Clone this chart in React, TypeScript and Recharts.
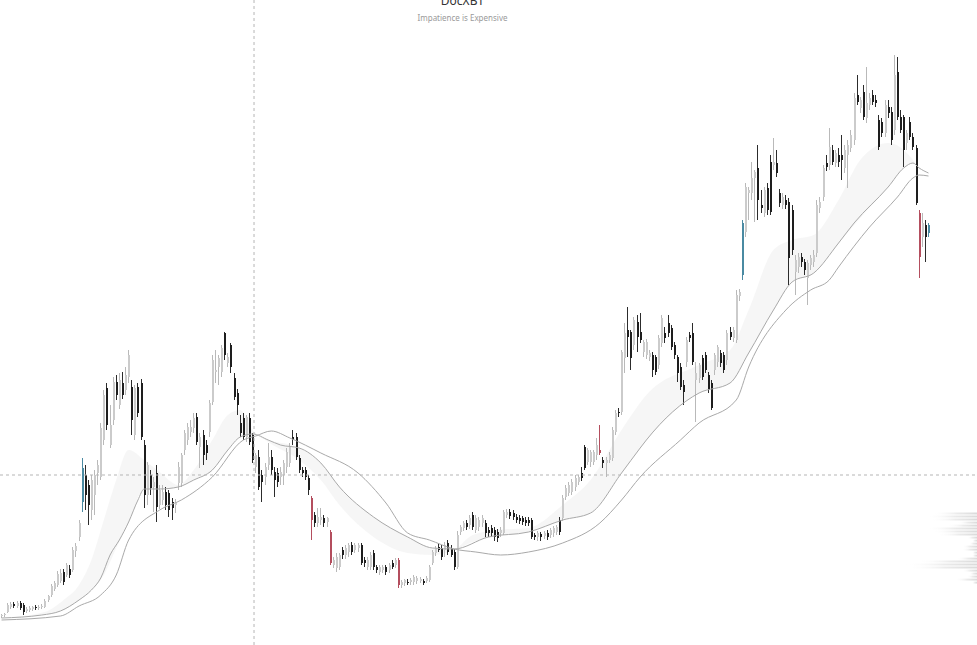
import React from 'react';
import { ComposedChart, Bar, Line, Area, XAxis, YAxis, ReferenceLine, BarChart } from 'recharts';

// Daily candles, [open, high, low, close] (price index units)
const ohlc: number[][] = [
  [29,31,27,30],[30,32,28,31],[33,42,32,40],[38,43,36,41],[41,43,37,39],[39,44,37,42],[42,44,35,37],[40,42,30,33],[34,38,32,36],[35,39,33,37],
  [36,39,34,38],[38,40,35,37],[37,40,35,38],[38,41,36,39],[38,46,37,44],[45,50,43,49],[50,61,48,59],[56,64,54,62],[60,74,58,71],[64,76,62,72],
  [73,76,60,63],[70,82,68,80],[76,80,67,70],[75,98,73,95],[94,102,88,99],[108,125,104,122],[143,187,133,177],[170,180,135,150],[160,165,120,140],[135,170,125,165],
  [150,175,130,170],[172,185,160,180],[168,222,165,217],[205,255,200,250],[257,262,215,220],[200,240,197,220],[225,268,220,263],[263,270,245,250],[240,272,236,265],[262,273,246,250],
  [255,278,250,270],[268,295,262,290],[258,265,210,225],[210,260,205,257],[258,262,228,232],[262,266,205,208],[200,205,137,150],[150,183,140,180],[170,175,150,157],[158,168,133,163],
  [172,180,123,138],[140,160,136,155],[145,160,140,153],[153,158,135,140],[152,155,128,135],[143,147,125,137],[140,146,132,142],[162,183,155,178],[162,192,158,190],[195,215,190,212],
  [205,222,200,218],[213,225,208,218],[217,232,212,227],[228,232,200,203],[198,212,177,208],[210,215,180,190],[200,205,185,192],[213,245,208,242],[243,290,240,285],[273,295,262,275],
  [278,290,260,287],[273,300,268,297],[312,313,285,290],[282,292,278,288],[300,302,272,278],[267,272,245,248],[252,256,230,240],[222,230,208,212],[227,232,205,208],[208,230,203,228],
  [227,232,200,203],[210,212,182,185],[178,192,172,190],[188,195,155,158],[170,175,143,163],[168,182,160,178],[180,202,175,188],[188,195,170,175],[173,178,148,165],[172,177,158,163],
  [168,178,160,173],[170,185,160,182],[178,197,172,193],[182,202,178,198],[208,215,200,205],[208,212,185,188],[187,190,172,175],[175,178,168,172],[175,178,165,168],[167,170,150,155],
  [147,149,105,125],[130,133,118,122],[122,137,118,128],[125,137,120,128],[127,130,118,122],[123,128,118,127],[113,115,80,82],[80,88,77,85],[77,92,73,88],[78,92,75,90],
  [95,98,86,90],[90,100,86,97],[93,102,88,100],[100,103,90,93],[95,102,92,100],[97,102,93,100],[100,102,80,82],[85,88,78,82],[78,88,75,85],[78,93,75,90],
  [92,95,75,78],[78,80,72,75],[73,80,70,78],[75,80,72,78],[78,80,70,73],[75,82,72,80],[82,85,76,78],[80,87,77,85],[85,87,57,60],[60,65,57,63],
  [62,66,59,65],[63,66,60,62],[63,67,60,65],[63,70,60,68],[64,69,61,67],[64,68,62,66],[64,66,60,62],[64,69,62,67],[65,80,63,78],[82,95,80,93],
  [92,99,89,97],[98,102,93,95],[97,100,85,88],[95,103,88,100],[102,105,90,93],[97,100,88,90],[93,96,75,78],[78,114,76,110],[113,120,110,118],[117,124,114,122],
  [122,125,115,118],[120,130,116,127],[130,133,115,118],[115,130,112,127],[118,128,114,125],[122,130,118,127],[122,125,108,112],[115,118,108,112],[117,120,108,112],[115,118,104,108],
  [113,116,103,107],[112,118,108,115],[112,135,110,133],[130,136,127,133],[133,136,126,129],[132,135,125,128],[128,131,122,125],[127,130,121,124],[127,129,120,123],[125,128,119,122],
  [125,128,119,122],[125,127,106,108],[110,112,105,108],[108,114,104,112],[111,113,104,108],[109,114,106,112],[112,115,105,108],[110,117,107,115],[112,119,108,117],[113,120,110,118],
  [125,128,110,113],[127,150,124,147],[148,160,145,157],[152,163,149,160],[153,166,150,163],[158,170,154,167],[163,170,160,168],[172,178,164,167],[198,200,175,177],[183,197,180,195],
  [183,195,178,193],[183,195,180,193],[190,207,185,200],[195,220,190,192],[185,188,177,182],[182,188,168,185],[185,193,182,190],[187,218,184,215],[213,235,210,232],[233,237,228,232],
  [233,295,230,293],[287,322,272,312],[315,338,288,308],[313,315,275,287],[300,328,295,325],[323,330,293,308],[313,332,302,305],[293,305,288,303],[290,306,286,303],[288,295,284,292],
  [290,293,268,275],[288,290,270,273],[280,310,276,307],[302,330,298,327],[312,318,302,307],[322,330,308,312],[317,320,295,298],[300,303,286,290],[288,290,263,272],[278,282,255,258],
  [260,265,240,253],[283,308,278,305],[310,313,303,307],[312,322,280,283],[265,283,223,272],[267,282,262,280],[287,290,265,268],[290,293,272,275],[270,273,252,255],[262,265,235,237],
  [275,292,270,290],[283,300,278,298],[292,295,278,282],[290,293,272,275],[285,315,280,312],[313,318,305,308],[307,318,303,315],[305,355,302,350],[349,356,344,353],[370,425,365,422],
  [413,462,408,458],[452,458,425,455],[452,483,445,467],[467,475,423,473],[477,500,425,445],[440,455,432,437],[432,458,428,455],[457,462,430,435],[483,490,430,433],[480,507,475,483],
  [482,495,468,472],[452,456,438,442],[440,452,436,448],[445,450,436,440],[443,447,360,387],[435,440,390,395],[373,390,350,385],[378,392,372,388],[388,392,378,383],[383,386,370,375],
  [367,385,340,382],[380,390,375,387],[383,395,378,390],[392,445,388,440],[437,448,432,443],[448,480,444,477],[482,490,474,478],[480,517,475,498],[495,500,480,483],[482,495,478,492],
  [490,497,478,483],[490,510,465,485],[477,500,472,495],[490,505,457,500],[497,515,493,510],[505,552,500,547],[550,570,540,543],[537,548,532,545],[553,560,525,528],[527,578,522,542],
  [540,552,535,547],[550,555,540,543],[545,550,538,542],[525,530,495,498],[523,527,508,512],[512,545,508,540],[538,545,527,532],[533,538,500,505],[515,590,510,570],[573,588,525,528],
  [528,535,512,515],[528,530,478,495],[502,515,495,512],[523,528,505,508],[508,512,495,498],[497,500,440,442],[432,435,367,388],[408,432,398,422],[420,425,383,408],[412,422,408,420],
];
const tealCandles = [26, 239, 299];
const redCandles = [100, 106, 128, 193, 296];

// Moving averages, [day, value]
const fastMA: number[][] = [
  [0,27],[13,30],[19,34],[25,45],[29,55],[32,67],[35,90],[38,105],[41,123],[44,145],[46,156],[51,156],[57,158],[62,165],[68,175],[73,195],[77,208],[81,211],
  [86,205],[90,200],[96,197],[103,182],[109,158],[120,128],[131,108],[139,97],[146,96],[157,108],[170,113],[181,125],[190,132],[200,172],[206,197],[208,205],
  [225,252],[235,262],[241,292],[249,335],[255,363],[262,372],[270,402],[275,422],[286,458],[291,477],[294,482],[296,477],[299,472],
];
const slowMA: number[][] = [
  [0,25],[19,29],[25,39],[32,50],[37,70],[41,105],[51,135],[58,145],[68,168],[78,205],[82,209],[87,214],[93,207],[103,192],[115,172],[124,142],[131,112],
  [138,105],[146,96],[153,93],[161,90],[170,93],[181,102],[193,122],[200,145],[206,168],[219,205],[225,222],[237,245],[241,278],[253,335],[261,355],[267,365],
  [270,378],[280,418],[289,448],[294,467],[296,470],[299,469],
];
// Shaded cloud: [day, outer edge, fast MA]
const cloud: number[][] = [
  [0,27,27],[14,33,31],[20,45,35],[25,60,45],[29,85,55],[33,125,70],[37,165,97],[41,195,123],[46,185,156],[51,173,156],[57,160,158],[62,175,165],[68,205,175],
  [73,230,195],[77,235,208],[81,215,211],[86,203,205],[96,185,197],[103,165,182],[109,140,158],[120,108,128],[131,92,108],[139,90,97],[146,95,96],[152,110,103],
  [160,115,109],[170,117,113],[181,140,125],[190,165,132],[200,215,172],[208,250,205],[225,280,252],[235,295,262],[241,335,292],[249,395,335],[255,405,363],
  [262,410,372],[270,445,402],[277,485,427],[286,502,458],[291,495,477],[294,485,482],[296,477,477],
];

// Visible-range volume profile
const profileLevels = [131,128,125,122,119,116,113,110,107,104,101,98,95,92,89,86,83,80,77,74,71,68,65,62];
const profileVolumes = [45,50,47,20,30,50,45,40,10,5,8,15,15,5,5,20,60,72,70,15,8,10,22,5];

const crossDay = 81.44;
const crossPrice = 170;

const candleData = ohlc.map((r, k) => ({
  k, o: r[0], h: r[1], l: r[2], c: r[3], range: [r[2], r[1]],
  tone: tealCandles.includes(k) ? 'teal' : redCandles.includes(k) ? 'red' : '',
}));
const fastData = fastMA.map(([k, v]) => ({ k, v }));
const slowData = slowMA.map(([k, v]) => ({ k, v }));
const cloudData = cloud.map(([k, e, b]) => ({ k, r: [b, e] }));
const profileData = profileLevels.map((lv, i) => ({ level: lv, vol: profileVolumes[i] }));

const CandleShape = (props: any) => {
  const { x, y, width, height, payload } = props;
  if (!payload || payload.o == null || x == null || y == null) return null;
  const { o, h, l, c, tone } = payload;
  const span = h - l || 1;
  const py = (v: number) => y + ((h - v) / span) * height;
  const cx = Math.round(x + width / 2);
  const up = c >= o;
  let body = up ? '#cbcbcb' : '#1e1e1e';
  let wick = up ? '#b9b9b9' : '#2c2c2c';
  if (tone === 'teal') { body = '#4a8aa2'; wick = '#4a8aa2'; }
  if (tone === 'red') { body = '#b44e5e'; wick = '#b44e5e'; }
  const top = py(Math.max(o, c));
  const bot = py(Math.min(o, c));
  return (
    <g>
      <line x1={cx - 0.5} x2={cx - 0.5} y1={y} y2={y + height} stroke={wick} strokeWidth={1} />
      <rect x={cx - 1} y={top} width={2} height={Math.max(1, bot - top)} fill={body} />
    </g>
  );
};

export default function App() {
  return (
    <div style={{ position: 'absolute', left: 0, top: 0, width: 977, height: 645, background: '#fff', overflow: 'hidden' }}>
      <ComposedChart width={977} height={645} data={candleData} margin={{ top: 0, right: 0, bottom: 0, left: 0 }}>
        <XAxis type="number" dataKey="k" domain={[-0.5, 314.65]} hide allowDataOverflow />
        <YAxis type="number" domain={[0, 645]} hide allowDataOverflow />
        <Area data={cloudData} dataKey="r" type="monotone" stroke="none" fill="#eeeeee" fillOpacity={0.5} isAnimationActive={false} />
        <Line data={slowData} dataKey="v" type="monotone" stroke="#a9a9a9" strokeWidth={1} dot={false} isAnimationActive={false} />
        <Line data={fastData} dataKey="v" type="monotone" stroke="#a9a9a9" strokeWidth={1} dot={false} isAnimationActive={false} />
        <ReferenceLine x={crossDay} stroke="#b5b5b5" strokeDasharray="3 3" />
        <ReferenceLine y={crossPrice} stroke="#b5b5b5" strokeDasharray="3 3" />
        <Bar dataKey="range" barSize={2} shape={CandleShape} isAnimationActive={false} />
      </ComposedChart>
      <div style={{ position: 'absolute', left: 877, top: 512, width: 100, height: 72 }}>
        <BarChart width={100} height={72} data={profileData} layout="vertical" margin={{ top: 0, right: 0, bottom: 0, left: 0 }} barCategoryGap={0.6}>
          <defs>
            <linearGradient id="pg" x1="0" y1="0" x2="1" y2="0">
              <stop offset="0%" stopColor="#ffffff" stopOpacity={0} />
              <stop offset="55%" stopColor="#e6e6e6" stopOpacity={0.8} />
              <stop offset="100%" stopColor="#dadada" stopOpacity={1} />
            </linearGradient>
          </defs>
          <XAxis type="number" domain={[0, 100]} reversed hide />
          <YAxis type="category" dataKey="level" hide />
          <Bar dataKey="vol" fill="url(#pg)" isAnimationActive={false} />
        </BarChart>
      </div>
      <svg style={{ position: 'absolute', left: 0, top: 0 }} width={977} height={30}>
        <text x={462.5} y={5} textAnchor="middle" fontSize={12} fill="#333" fontFamily="'Noto Sans', sans-serif">DocXBT</text>
        <text x={462.5} y={20.5} textAnchor="middle" fontSize={8} fill="#9a9a9a" fontFamily="'Noto Sans', sans-serif">Impatience is Expensive</text>
      </svg>
    </div>
  );
}
